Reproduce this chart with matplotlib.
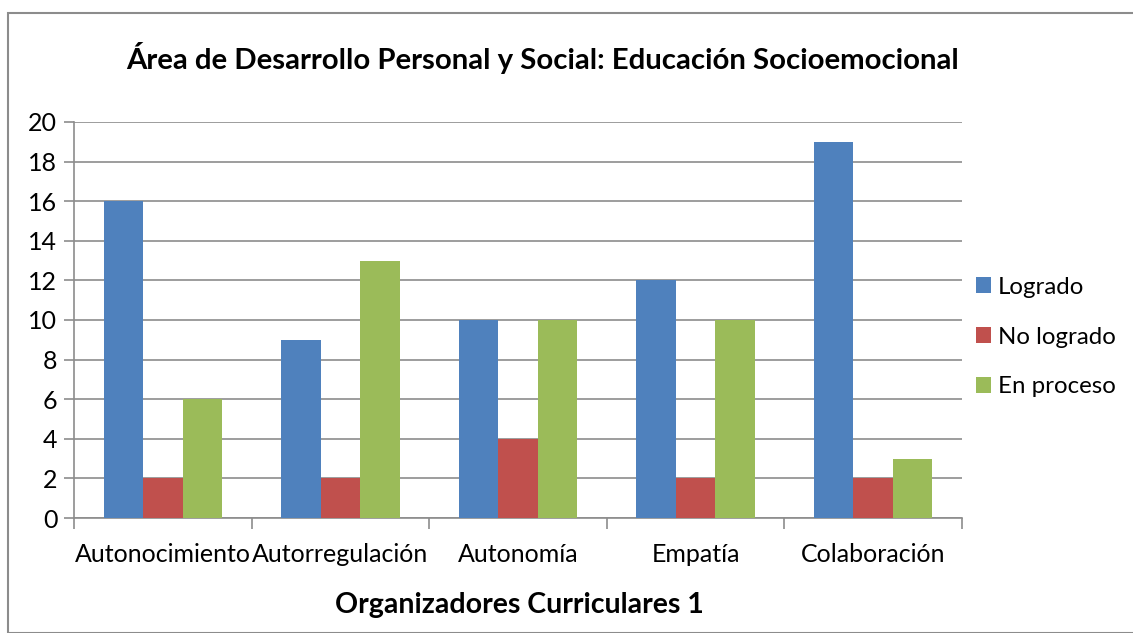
import numpy as np
import matplotlib.pyplot as plt
from matplotlib.patches import Rectangle

plt.rcParams['font.family'] = ['Lato', 'DejaVu Sans']

# Chart data
categories = ['Autonocimiento', 'Autorregulación', 'Autonomía', 'Empatía', 'Colaboración']
logrado = [16, 9, 10, 12, 19]
no_logrado = [2, 2, 4, 2, 2]
en_proceso = [6, 13, 10, 10, 3]
series_names = ['Logrado', 'No logrado', 'En proceso']
colors = ['#4F81BD', '#C0504D', '#9BBB59']

W, H = 1133, 633
fig = plt.figure(figsize=(W / 100, H / 100), dpi=100)

# outer chart border
fig.patches.append(Rectangle((8 / W, 0), 1.2, (H - 13) / H, transform=fig.transFigure,
                             fill=False, edgecolor='#8c8c8c', linewidth=1.5))

left, right, top, bottom = 74, 962, 122, 518
ax = fig.add_axes([left / W, 1 - bottom / H, (right - left) / W, (bottom - top) / H])

x = np.arange(len(categories))
bw = 1 / 4.5
for i, (vals, name, c) in enumerate(zip([logrado, no_logrado, en_proceso], series_names, colors)):
    ax.bar(x + (i - 1) * bw, vals, width=bw, color=c, label=name, zorder=3)

ax.set_xlim(-0.5, len(categories) - 0.5)
ax.set_ylim(0, 20)
ax.set_yticks(range(0, 21, 2))
ax.yaxis.grid(True, color='#8c8c8c', linewidth=1.2, zorder=0)
ax.set_axisbelow(True)

ax.set_xticks(x)
ax.set_xticklabels(categories, fontsize=18)
ax.tick_params(axis='x', length=0, pad=18)
ax.set_xticks(np.arange(-0.5, len(categories)), minor=True)
ax.tick_params(axis='x', which='minor', length=8, color='#8c8c8c', width=1.2)
ax.tick_params(axis='y', length=7, color='#8c8c8c', width=1.2, labelsize=18, pad=5)

for s in ['top', 'right']:
    ax.spines[s].set_visible(False)
for s in ['left', 'bottom']:
    ax.spines[s].set_color('#8c8c8c')
    ax.spines[s].set_linewidth(1.2)

fig.text(543 / W, 1 - 58 / H, 'Área de Desarrollo Personal y Social: Educación Socioemocional',
         ha='center', va='center', fontsize=21.2, fontweight='bold')
fig.text(519 / W, 1 - 605 / H, 'Organizadores Curriculares 1',
         ha='center', va='center', fontsize=20.5, fontweight='bold')

ax.legend(loc='center left', bbox_to_anchor=((954 - left) / (right - left), 0.457),
          frameon=False, fontsize=17.3, handlelength=0.62, handleheight=0.62,
          handletextpad=0.3, labelspacing=1.2)

fig.savefig('out.png', dpi=100)
